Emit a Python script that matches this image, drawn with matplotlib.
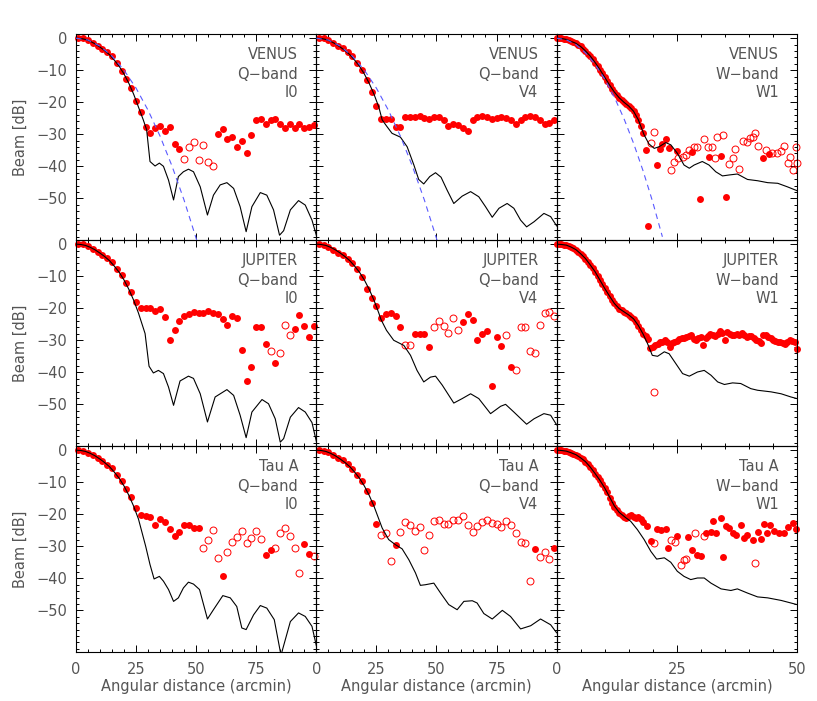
import numpy as np
import matplotlib.pyplot as plt
from matplotlib.ticker import MultipleLocator

GREY = '#555555'

# ---- Q-band measurements, one point every 2 arcmin ----
q_x = np.arange(1, 100, 2)

venus_q_i0 = [0, 0, -0.5, -1.4, -2.3, -3.3, -4.3, -5.7, -7.6, -10.1,
              -12.8, -15.6, -19.6, -22.9, -27.6, -29.7, -28.1, -27.4, -29.0, -27.8,
              -33.0, -34.7, -37.8, -34.1, -32.4, -38.0, -33.4, -38.5, -39.9, -29.9,
              -28.4, -31.6, -30.9, -34.1, -32.2, -35.9, -30.2, -25.5, -25.3, -26.8,
              -25.7, -25.2, -26.8, -28.1, -26.8, -28.1, -26.8, -28.1, -27.8, -27.1]
venus_q_i0_open = [45, 47, 49, 51, 53, 55, 57]

jupiter_q_i0 = [0, -0.1, -0.6, -1.4, -2.4, -3.4, -4.3, -5.7, -7.6, -9.7,
                -12.1, -14.9, -18.0, -19.8, -19.8, -19.8, -20.9, -20.3, -22.7, -30.0,
                -26.9, -24.1, -22.5, -21.7, -21.1, -21.5, -21.5, -20.8, -21.5, -21.9,
                -23.5, -25.3, -22.5, -23.2, -32.9, -42.7, -38.3, -26.0, -25.8, -31.3,
                -33.4, -37.0, -34.0, -25.3, -28.4, -26.4, -22.2, -25.6, -29.0, -25.6]
jupiter_q_i0_open = [81, 85, 87, 89]

taua_q_i0 = [0, -0.3, -0.8, -1.6, -2.4, -3.4, -4.5, -5.7, -7.6, -9.5,
             -12.1, -14.6, -18.2, -20.3, -20.6, -20.8, -23.5, -21.4, -22.5, -24.6,
             -26.7, -25.5, -23.5, -23.4, -24.4, -24.4, -30.5, -27.9, -24.8, -33.6,
             -39.2, -31.9, -28.8, -27.1, -25.3, -29.0, -27.4, -25.1, -27.7, -32.8,
             -31.3, -30.5, -25.8, -24.3, -26.7, -30.5, -38.3, -29.3, -32.3, -32.9]
taua_q_i0_open = [53, 55, 57, 59, 63, 65, 67, 69, 71, 73, 75, 77,
                  83, 85, 87, 89, 91, 93, 99]

venus_q_v4 = [0, 0, -0.5, -1.4, -2.3, -3.1, -4.2, -5.5, -7.6, -9.9,
              -13.2, -16.7, -21.1, -25.3, -25.3, -25.3, -27.6, -27.8, -24.7, -24.5,
              -24.5, -24.3, -25.0, -25.3, -24.7, -24.7, -25.7, -27.4, -26.8, -27.1,
              -28.1, -28.9, -25.5, -24.5, -24.3, -24.7, -25.3, -25.0, -24.5, -25.0,
              -25.7, -26.8, -25.7, -24.7, -24.3, -24.7, -25.7, -26.8, -26.4, -25.5]
venus_q_v4_open = []

jupiter_q_v4 = [0, -0.3, -0.8, -1.7, -2.7, -3.4, -4.5, -6.0, -7.9, -10.4,
                -13.9, -16.7, -19.4, -23.2, -21.9, -21.5, -22.5, -26.0, -31.6, -31.6,
                -27.9, -27.9, -28.1, -32.1, -25.8, -24.0, -25.6, -27.7, -22.9, -26.9,
                -24.3, -21.7, -23.8, -29.8, -28.1, -27.1, -44.2, -29.0, -31.9, -28.4,
                -38.3, -39.2, -25.8, -26.0, -33.3, -34.0, -25.3, -21.5, -21.1, -22.5]
jupiter_q_v4_open = [37, 39, 49, 51, 53, 55, 57, 59, 79, 83, 85, 87, 89,
                     91, 93, 95, 97, 99]

taua_q_v4 = [0, -0.2, -0.6, -1.4, -2.4, -3.1, -4.2, -5.8, -7.6, -9.7,
             -12.8, -16.5, -22.9, -26.6, -26.0, -34.7, -29.5, -25.5, -22.5, -23.5,
             -25.1, -24.0, -31.2, -26.6, -22.2, -21.7, -23.0, -22.9, -21.7, -21.7,
             -20.6, -23.5, -25.5, -23.8, -22.5, -21.9, -22.7, -22.9, -24.0, -22.2,
             -23.5, -25.8, -28.8, -29.0, -40.9, -30.8, -33.3, -31.9, -33.9, -30.5]
taua_q_v4_open = [27, 29, 31, 35, 37, 39, 41, 43, 45, 47, 49, 51, 53, 55, 57,
                  59, 61, 63, 65, 67, 69, 71, 73, 75, 77, 79, 81, 83, 85, 87,
                  89, 93, 95, 97]

# ---- Q-band model beams (black) ----
q_beam_x = [0, 2, 4, 6, 8, 10, 12, 14, 16, 18, 20, 22, 24, 26]
q_beam_db = [0, -0.1, -0.4, -1.0, -1.8, -2.8, -3.9, -5.2, -6.9, -8.8,
             -11.2, -14.1, -17.5, -21.5]

venus_i0_tail_x = [28, 29.4, 30.8, 32.9, 34.7, 36.4, 38.5, 40.6, 42.6, 44.7, 46.8,
                   48.9, 51.7, 54.7, 57.2, 60, 62.8, 65.6, 68.3, 70.8, 73.2, 76.7,
                   79.4, 82.2, 84.7, 86.4, 89.2, 92.6, 95.4, 98.2, 100]
venus_i0_tail_db = [-25.5, -28.6, -38.5, -39.9, -39.0, -40.0, -44.3, -50.5, -43.2,
                    -41.7, -40.9, -41.7, -46.4, -55.2, -49.0, -45.8, -45.1, -46.9,
                    -52.6, -60.4, -52.6, -48.2, -49.0, -53.6, -61.5, -60.1, -53.6,
                    -50.7, -52.1, -56.8, -61.5]

jupiter_i0_tail_x = [28.75, 30.4, 32.2, 34.3, 36.4, 38.5, 40.6, 43.3, 46.8, 48.9,
                     51.7, 54.7, 57.9, 62.8, 65.6, 68.3, 70.8, 73.2, 77.4, 80.1,
                     82.9, 85, 86.4, 89.2, 92.6, 95.4, 98.2, 100]
jupiter_i0_tail_db = [-27.9, -38.1, -40.2, -39.4, -40.4, -44.6, -50.3, -42.7,
                      -41.2, -41.9, -46.7, -55.5, -47.7, -45.4, -47.2, -53.4,
                      -60.4, -52.4, -48.5, -49.8, -54.5, -61.8, -60.7, -54.0,
                      -51.0, -52.4, -55.7, -61.5]

taua_i0_tail_x = [29, 30.8, 32.5, 34.7, 36.4, 38.5, 40.6, 42.6, 44.7, 46.8, 48.9,
                  51.4, 54.7, 57.2, 61.1, 64.2, 66.9, 69, 70.8, 73.9, 76.7, 79.4,
                  82.5, 85.3, 89.2, 92.6, 95.4, 98.2, 100]
taua_i0_tail_db = [-30.0, -35.7, -40.2, -39.4, -40.9, -43.5, -47.2, -46.1, -43.0,
                   -41.2, -41.8, -43.5, -52.7, -49.8, -45.4, -46.1, -48.8, -55.5,
                   -56.0, -51.4, -48.5, -49.3, -52.9, -64.0, -53.5, -50.8, -51.9,
                   -55.0, -61.0]

venus_v4_tail_x = [27.4, 29.2, 31.5, 35, 37.8, 40.6, 42.6, 44.7, 47.2, 49.6, 51.9,
                   54.4, 57.2, 60.7, 64.2, 67.6, 70.4, 73.2, 76, 79.4, 82.2, 85,
                   87.5, 90.6, 94.7, 97.5, 100]
venus_v4_tail_db = [-25.5, -27.4, -29.7, -30.9, -33.9, -39.6, -44.1, -45.5, -43.2,
                    -42.0, -43.4, -47.4, -51.6, -49.3, -47.9, -49.5, -52.6, -55.9,
                    -53.1, -51.6, -53.1, -56.8, -58.9, -57.3, -54.7, -55.7, -58.6]

jupiter_v4_tail_x = [26.9, 29.2, 32.2, 36.4, 39.2, 41.9, 44.7, 47.5, 49.6, 52.4,
                     57.2, 60.7, 64.2, 67.6, 72.5, 76.7, 78.75, 82.2, 87.5, 90.6,
                     94.7, 97.5, 100]
jupiter_v4_tail_db = [-23.5, -26.9, -30.0, -31.6, -34.7, -39.4, -43.0, -41.5,
                      -41.2, -44.0, -49.6, -48.2, -46.7, -48.2, -52.9, -50.6,
                      -50.0, -52.4, -56.2, -54.5, -52.9, -53.4, -56.4]

taua_v4_tail_x = [27.4, 30.1, 32.9, 35.7, 38.5, 41.25, 43.3, 45.4, 48.9, 51.7,
                  55.1, 58.6, 61.4, 64.9, 66.9, 69.7, 73.2, 77.4, 80.8, 85, 89.2,
                  93.3, 97.5, 100]
taua_v4_tail_db = [-24.3, -27.9, -29.5, -30.8, -34.2, -38.3, -42.2, -42.0, -41.5,
                   -44.6, -48.2, -49.8, -47.2, -47.0, -47.7, -51.0, -52.7, -50.0,
                   -51.9, -55.8, -54.8, -52.7, -54.5, -57.0]

# Gaussian fits (blue dashed), top row only
gauss_q_x = [0, 5, 10, 15, 20, 25, 30, 35, 40, 45, 50, 52]
gauss_q_db = [0, -0.6, -2.5, -5.6, -10.0, -15.6, -22.5, -30.6, -40.0, -50.6,
              -62.5, -67.6]
gauss_w_x = [0, 2, 4, 6, 8, 10, 12, 14, 16, 18, 20, 22]
gauss_w_db = [0, -0.5, -2.0, -4.6, -8.2, -12.8, -18.4, -25.1, -32.8, -41.5,
              -51.2, -62.0]

# ---- W-band measurements ----
w_beam_x = np.arange(0, 18.5, 0.5)

venus_w_beam = [0, 0, -0.1, -0.2, -0.3, -0.5, -0.8, -1.1, -1.5, -2.0,
                -2.6, -3.3, -4.0, -4.8, -5.6, -6.6, -7.6, -8.7, -9.8, -11.0,
                -12.2, -13.4, -14.6, -15.8, -16.8, -17.8, -18.6, -19.3, -20.0,
                -20.6, -21.2, -21.9, -22.8, -23.9, -25.5, -27.5, -29.5]
venus_w_fill_x = [18.5, 19.1, 20.8, 21.5, 22.0, 22.7, 23.3, 25.0, 28.1, 29.9,
                  31.7, 34.2, 35.2, 43.0, 44.2]
venus_w_fill_db = [-34.9, -58.6, -39.6, -34.7, -33.0, -31.5, -34.2, -35.1, -35.4,
                   -50.2, -37.0, -36.8, -49.5, -37.5, -36.3]
venus_w_open_x = [19.7, 20.3, 23.75, 24.4, 25.3, 26.2, 26.9, 27.6, 28.6, 29.3,
                  30.6, 31.4, 32.4, 32.9, 33.3, 34.7, 35.9, 36.6, 37.2, 38.0,
                  38.7, 39.6, 40.3, 40.8, 41.25, 41.9, 43.5, 44.9, 45.8, 46.7,
                  47.4, 48.1, 48.6, 49.1, 49.8, 50.1]
venus_w_open_db = [-32.6, -29.2, -41.1, -38.5, -37.5, -37.0, -36.5, -34.9, -33.9,
                   -33.9, -31.6, -34.1, -33.9, -37.5, -30.7, -30.2, -39.4, -37.5,
                   -34.7, -40.9, -32.0, -32.3, -31.2, -30.7, -29.7, -33.6, -34.9,
                   -35.9, -35.9, -35.1, -33.6, -39.1, -37.2, -41.1, -33.9, -39.1]

jupiter_w_beam = [0, 0, -0.1, -0.2, -0.3, -0.6, -0.9, -1.3, -1.7, -2.3,
                  -3.0, -3.7, -4.5, -5.5, -6.5, -7.5, -8.6, -9.9, -11.2, -12.5,
                  -13.8, -15.0, -16.2, -17.4, -18.5, -19.4, -20.1, -20.6, -21.1,
                  -21.6, -22.1, -22.6, -23.3, -24.2, -25.4, -26.7, -28.1]
jupiter_w_fill_x = [18.5, 19.0, 19.5, 20.0, 20.5, 21.0, 21.5, 22.0, 22.5, 23.0,
                    23.5, 24.0, 24.5, 25.0, 25.5, 26.0, 26.5, 27.0, 27.5, 28.0,
                    28.5, 29.0, 29.5, 30.0, 30.5, 31.0, 31.5, 32.0, 32.5, 33.0,
                    33.5, 34.0, 34.5, 35.0, 35.5, 36.0, 36.5, 37.0, 37.5, 38.0,
                    38.5, 39.0, 39.5, 40.0, 40.5, 41.0, 41.5, 42.0, 42.5, 43.0,
                    43.5, 44.0, 44.5, 45.0, 45.5, 46.0, 46.5, 47.0, 47.5, 48.0,
                    48.5, 49.0, 49.5, 50.0]
jupiter_w_fill_db = [-28.8, -29.5, -32.3, -32.0, -31.6, -31.2, -30.6, -30.4, -30.0,
                     -30.6, -32.0, -31.0, -30.6, -30.2, -29.6, -29.4, -29.2, -29.0,
                     -28.6, -28.4, -29.5, -30.0, -29.2, -29.0, -31.6, -29.2, -28.6,
                     -28.1, -28.4, -28.7, -28.0, -27.2, -27.6, -30.0, -27.4, -28.0,
                     -28.4, -28.2, -27.9, -28.3, -27.7, -28.2, -29.0, -28.6, -28.8,
                     -29.3, -29.8, -30.2, -31.0, -28.2, -28.5, -29.0, -29.4, -29.8,
                     -30.1, -30.4, -30.5, -31.0, -31.3, -30.6, -30.0, -30.3, -30.5,
                     -32.6]
jupiter_w_open_x = [20.3]
jupiter_w_open_db = [-46.1]

taua_w_beam = [0, 0, -0.1, -0.2, -0.3, -0.5, -0.8, -1.1, -1.4, -1.9,
               -2.4, -2.9, -3.6, -4.4, -5.3, -6.2, -7.3, -8.4, -9.4, -10.6,
               -11.8, -13.2, -15.0, -16.5, -17.8, -18.8, -19.6, -20.3, -20.9,
               -21.1, -20.6, -20.1, -20.8, -21.1, -21.0, -21.4, -22.4]
taua_w_fill_x = [18.9, 19.6, 20.8, 21.7, 22.7, 23.2, 25.1, 27.4, 28.1, 29.3, 30.0,
                 31.0, 32.1, 32.6, 33.1, 34.2, 34.7, 35.2, 35.9, 36.6, 37.3, 38.3,
                 38.9, 39.7, 40.8, 41.8, 42.5, 43.1, 43.75, 44.4, 45.3, 46.3, 47.4,
                 48.05, 49.1, 49.8]
taua_w_fill_db = [-23.8, -28.2, -24.6, -24.8, -24.6, -30.5, -26.7, -27.2, -31.2,
                  -32.6, -33.1, -26.0, -25.6, -22.2, -25.8, -21.1, -33.3, -23.8,
                  -24.3, -25.8, -26.4, -23.5, -27.4, -26.4, -28.1, -25.6, -27.7,
                  -23.2, -26.0, -23.5, -25.3, -25.8, -25.8, -24.0, -22.7, -24.6]
taua_w_open_x = [20.3, 23.75, 24.6, 25.8, 26.4, 26.9, 28.75, 30.6, 41.25]
taua_w_open_db = [-29.0, -27.9, -28.8, -36.0, -34.4, -34.0, -26.0, -26.7, -35.2]

# ---- W-band model beams ----
venus_w_line_x = [0, 1, 2, 3, 4, 5, 6, 7, 8, 9, 10, 11, 12, 13, 14, 15, 16, 17,
                  18.2, 19.2, 20.3, 21.3, 22.7, 23.75, 25.1, 26.5, 27.6, 28.6,
                  30.3, 31.7, 33.1, 34.5, 35.9, 37.6, 39.7, 41.8, 43.9, 46, 48, 50]
venus_w_line_db = [0, -0.1, -0.4, -1.0, -1.6, -2.6, -4.0, -5.6, -7.6, -9.8, -12.2,
                   -14.6, -16.8, -18.6, -20.0, -21.2, -22.8, -25.5, -30.2, -33.0,
                   -34.4, -33.9, -32.6, -33.3, -35.9, -39.6, -40.6, -39.6, -38.5,
                   -39.6, -41.7, -43.0, -42.7, -42.4, -44.1, -44.5, -45.1, -45.3,
                   -46.4, -47.6]
jupiter_w_line_x = [0, 1, 2, 3, 4, 5, 6, 7, 8, 9, 10, 11, 12, 13, 14, 15, 16, 17,
                    18, 18.9, 19.9, 21, 22.4, 23.4, 24.8, 26.2, 27.6, 29.3, 30.7,
                    32.1, 33.5, 34.9, 36.6, 38.3, 40.4, 41.8, 44.6, 46.7, 48.75, 50]
jupiter_w_line_db = [0, -0.1, -0.3, -0.9, -1.7, -3.0, -4.5, -6.5, -8.6, -11.2,
                     -13.8, -16.2, -18.5, -20.1, -21.1, -22.1, -23.3, -25.4, -28.1,
                     -31.0, -34.7, -35.0, -33.6, -34.2, -37.3, -40.4, -41.2, -39.9,
                     -39.4, -40.9, -43.0, -43.8, -43.3, -43.5, -45.1, -45.6, -46.1,
                     -46.7, -47.7, -48.2]
taua_w_line_x = [0, 1, 2, 3, 4, 5, 6, 7, 8, 9, 10, 11, 12, 13, 14.4, 15.4, 16.8,
                 18.2, 19.6, 20.8, 22.4, 23.75, 25.1, 26.5, 27.9, 29.3, 30.7, 32.1,
                 34.2, 36.25, 37.6, 39.7, 41.8, 43.9, 46.7, 50]
taua_w_line_db = [0, -0.1, -0.3, -0.8, -1.4, -2.4, -3.6, -5.3, -7.3, -9.4, -11.8,
                  -14.6, -17.4, -19.4, -21.1, -22.2, -24.8, -27.9, -31.6, -34.0,
                  -33.6, -35.0, -37.8, -39.4, -40.4, -39.9, -39.9, -41.5, -43.3,
                  -43.8, -43.3, -44.6, -45.8, -46.1, -46.9, -48.2]

sources = ['VENUS', 'JUPITER', 'Tau A']
bands = ['Q\u2212band', 'Q\u2212band', 'W\u2212band']
horns = ['I0', 'V4', 'W1']


def dots(ax, x, y, hollow=False):
    if hollow:
        ax.plot(x, y, 'o', ms=5, mfc='none', mec='red', mew=0.7,
                ls='none', clip_on=False, zorder=2)
    else:
        ax.plot(x, y, 'o', ms=5, mfc='red', mec='red', mew=0,
                ls='none', clip_on=False, zorder=2)


def q_panel(ax, db, open_x, tail_x, tail_db):
    db = np.array(db)
    hollow = np.isin(q_x, open_x)
    dots(ax, q_x[~hollow], db[~hollow])
    dots(ax, q_x[hollow], db[hollow], hollow=True)
    lx = [v for v in q_beam_x if v < tail_x[0]] + list(tail_x)
    ly = [d for v, d in zip(q_beam_x, q_beam_db) if v < tail_x[0]] + list(tail_db)
    ax.plot(lx, ly, color='black', lw=0.8, zorder=3)


def w_panel(ax, beam, fx, fdb, ox, odb, lx, ldb):
    dots(ax, np.concatenate([w_beam_x, fx]), np.concatenate([beam, fdb]))
    dots(ax, ox, odb, hollow=True)
    ax.plot(lx, ldb, color='black', lw=0.8, zorder=3)


fig = plt.figure(figsize=(8.17, 7.01), dpi=100)
gs = fig.add_gridspec(3, 3, left=0.093, right=0.9755, top=0.9515, bottom=0.0699,
                      hspace=0, wspace=0)
axes = [[fig.add_subplot(gs[r, c]) for c in range(3)] for r in range(3)]

q_panel(axes[0][0], venus_q_i0, venus_q_i0_open, venus_i0_tail_x, venus_i0_tail_db)
q_panel(axes[1][0], jupiter_q_i0, jupiter_q_i0_open, jupiter_i0_tail_x, jupiter_i0_tail_db)
q_panel(axes[2][0], taua_q_i0, taua_q_i0_open, taua_i0_tail_x, taua_i0_tail_db)
q_panel(axes[0][1], venus_q_v4, venus_q_v4_open, venus_v4_tail_x, venus_v4_tail_db)
q_panel(axes[1][1], jupiter_q_v4, jupiter_q_v4_open, jupiter_v4_tail_x, jupiter_v4_tail_db)
q_panel(axes[2][1], taua_q_v4, taua_q_v4_open, taua_v4_tail_x, taua_v4_tail_db)
w_panel(axes[0][2], venus_w_beam, venus_w_fill_x, venus_w_fill_db,
        venus_w_open_x, venus_w_open_db, venus_w_line_x, venus_w_line_db)
w_panel(axes[1][2], jupiter_w_beam, jupiter_w_fill_x, jupiter_w_fill_db,
        jupiter_w_open_x, jupiter_w_open_db, jupiter_w_line_x, jupiter_w_line_db)
w_panel(axes[2][2], taua_w_beam, taua_w_fill_x, taua_w_fill_db,
        taua_w_open_x, taua_w_open_db, taua_w_line_x, taua_w_line_db)

for c in range(2):
    axes[0][c].plot(gauss_q_x, gauss_q_db, color='#5a5aff', lw=0.8,
                    dashes=(5, 4), zorder=3)
axes[0][2].plot(gauss_w_x, gauss_w_db, color='#5a5aff', lw=0.8,
                dashes=(5, 4), zorder=3)

for r in range(3):
    for c in range(3):
        ax = axes[r][c]
        ax.set_facecolor('none')
        ax.set_ylim(-63, 1.3)
        if c < 2:
            ax.set_xlim(0, 100)
            ax.set_xticks([0, 25, 50, 75, 100])
            ax.set_xticklabels(['0', '25', '50', '75', ''])
        else:
            ax.set_xlim(0, 50)
            ax.set_xticks([0, 25, 50])
        ax.xaxis.set_minor_locator(MultipleLocator(5))
        ax.set_yticks([0, -10, -20, -30, -40, -50])
        ax.yaxis.set_minor_locator(MultipleLocator(2))
        ax.tick_params(which='both', direction='in', top=True, right=True,
                       width=0.7, colors='black', labelcolor=GREY, labelsize=10.5)
        ax.tick_params(which='major', length=5)
        ax.tick_params(which='minor', length=2.5)
        ax.tick_params(axis='x', pad=7)
        ax.tick_params(axis='y', pad=6)
        for s in ax.spines.values():
            s.set_linewidth(0.8)
        if r < 2:
            ax.tick_params(axis='x', labelbottom=False)
        else:
            ax.set_xlabel('Angular distance (arcmin)', color=GREY, fontsize=10.5)
            ax.xaxis.set_label_coords(0.5, -0.13)
        if c > 0:
            ax.tick_params(axis='y', labelleft=False)
        else:
            ax.set_ylabel('Beam [dB]', color=GREY, fontsize=10.5)
            ax.yaxis.set_label_coords(-0.2, 0.5)
        for k, txt in enumerate([sources[r], bands[c], horns[c]]):
            ax.text(0.925, [0.877, 0.783, 0.696][k], txt, ha='right',
                    va='baseline', transform=ax.transAxes, color=GREY,
                    fontsize=10.5)

fig.savefig('out.png', dpi=100)
